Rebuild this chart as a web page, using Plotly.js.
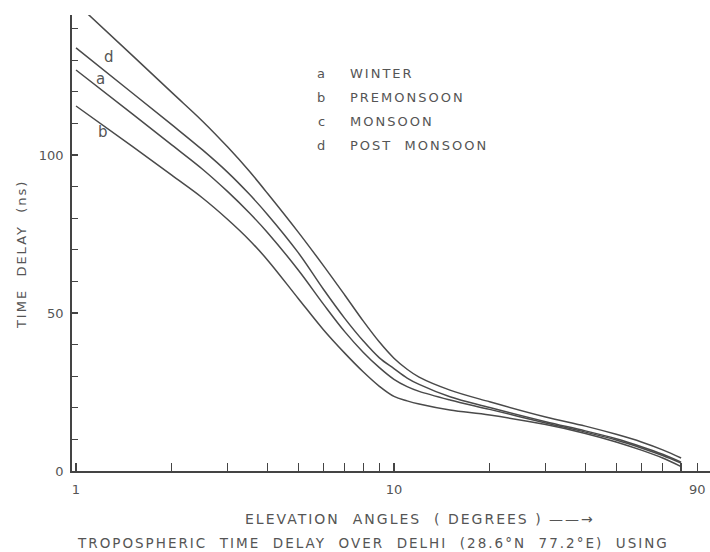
<!DOCTYPE html>
<html>
<head>
<meta charset="utf-8">
<script src="https://cdn.plot.ly/plotly-3.0.1.min.js"></script>
<style>
html,body{margin:0;padding:0;background:#fff;}
#chart{width:710px;height:552px;}
.annotation-text{letter-spacing:2px;}
</style>
</head>
<body>
<div id="chart"></div>
<script>
// Elevation angles (degrees)
const angles = [1, 1.5, 2, 2.5, 3, 3.5, 4, 5, 6, 7, 8, 9, 10, 11, 12, 15, 20, 30, 40, 50, 60, 70, 80];
// Time delay (ns) per season
const monsoon     = [148.1, 131.6, 119.8, 110.7, 102.5, 95.0, 87.9, 75.6, 65.0, 55.7, 47.5, 40.8, 35.7, 32.2, 29.7, 25.6, 21.9, 17.1, 14.2, 11.6, 9.2, 6.7, 4.1];
const postMonsoon = [133.9, 119.7, 109.6, 101.6, 94.5, 87.7, 81.2, 69.1, 57.5, 48.3, 41.2, 35.8, 32.4, 29.4, 27.4, 23.5, 20.1, 15.6, 12.7, 10.2, 7.7, 5.3, 2.8];
const winter      = [126.9, 113.1, 103.2, 95.5, 88.4, 81.8, 75.5, 63.6, 52.8, 44.1, 37.6, 32.7, 29.0, 26.7, 25.2, 22.5, 19.5, 15.2, 12.3, 9.8, 7.3, 4.9, 2.5];
const premonsoon  = [115.5, 102.8, 93.6, 86.4, 79.6, 73.2, 66.8, 54.6, 44.7, 37.3, 31.4, 26.8, 23.6, 22.2, 21.2, 19.3, 17.7, 14.7, 11.9, 9.2, 6.6, 4.1, 1.4];

const legendKeys  = ['a', 'b', 'c', 'd'];
const legendNames = ['WINTER', 'PREMONSOON', 'MONSOON', 'POST  MONSOON'];
const curveLabels = ['d', 'a', 'b'];

const xTickVals = [1,2,3,4,5,6,7,8,9,10,20,30,40,50,60,70,80,90];
const xTickText = xTickVals.map(v => (v === 1 || v === 10 || v === 90) ? String(v) : '');
const yTickVals = [0,10,20,30,40,50,60,70,80,90,100,110,120,130,140];
const yTickText = yTickVals.map(v => (v % 50 === 0) ? String(v) : '');

const lineColor = '#4a4a4a';
const textColor = '#555';
const fontFam = 'DejaVu Sans, Liberation Sans, sans-serif';

function trace(y) {
  return {x: angles, y: y, type: 'scatter', mode: 'lines',
          line: {color: lineColor, width: 1.5, shape: 'spline', smoothing: 1.0},
          hoverinfo: 'skip', showlegend: false};
}

const data = [trace(monsoon), trace(postMonsoon), trace(winter), trace(premonsoon)];

const annotations = [];
function ann(text, x, y, size, opts) {
  annotations.push(Object.assign({text: text, xref: 'paper', yref: 'paper', x: x, y: y,
    xanchor: 'center', yanchor: 'middle', showarrow: false,
    font: {size: size, color: textColor, family: fontFam}}, opts || {}));
}
// labels on curves
const labelPos = [[0.0590, 0.907], [0.0470, 0.859], [0.0500, 0.743]];
curveLabels.forEach((t, i) => ann(t, labelPos[i][0], labelPos[i][1], 15));
// key
const keyY = [0.872, 0.820, 0.767, 0.713];
legendKeys.forEach((k, i) => {
  ann(k, 0.392, keyY[i], 13);
  ann(legendNames[i], 0.4327, keyY[i], 13, {xanchor: 'left'});
});
// axis titles & caption
ann('TIME  DELAY  (ns)', -0.078, 0.474, 13, {textangle: -90});
ann('ELEVATION  ANGLES  ( DEGREES ) ——→', 0.545, -0.105, 14);
ann('TROPOSPHERIC  TIME  DELAY  OVER  DELHI  (28.6°N  77.2°E)  USING', 0.0047, -0.158, 13.5, {xanchor: 'left'});

const layout = {
  width: 710, height: 552,
  margin: {l: 72, r: 0, t: 15, b: 81},
  paper_bgcolor: '#fff', plot_bgcolor: '#fff',
  xaxis: {type: 'log', range: [-0.0126, 1.994], showgrid: false, zeroline: false,
    showline: true, linecolor: '#444', linewidth: 1.8,
    tickvals: xTickVals, ticktext: xTickText, ticks: 'inside', ticklen: 8, tickwidth: 1.2, tickcolor: '#444',
    ticklabelstandoff: 6,
    tickfont: {size: 13, color: textColor, family: fontFam}},
  yaxis: {range: [0, 144.3], showgrid: false, zeroline: false,
    showline: true, linecolor: '#444', linewidth: 1.8,
    tickvals: yTickVals, ticktext: yTickText, ticks: 'inside', ticklen: 6, tickwidth: 1.2, tickcolor: '#444',
    ticklabelstandoff: 4,
    tickfont: {size: 13, color: textColor, family: fontFam}},
  annotations: annotations
};

Plotly.newPlot('chart', data, layout, {staticPlot: true});
</script>
</body>
</html>
